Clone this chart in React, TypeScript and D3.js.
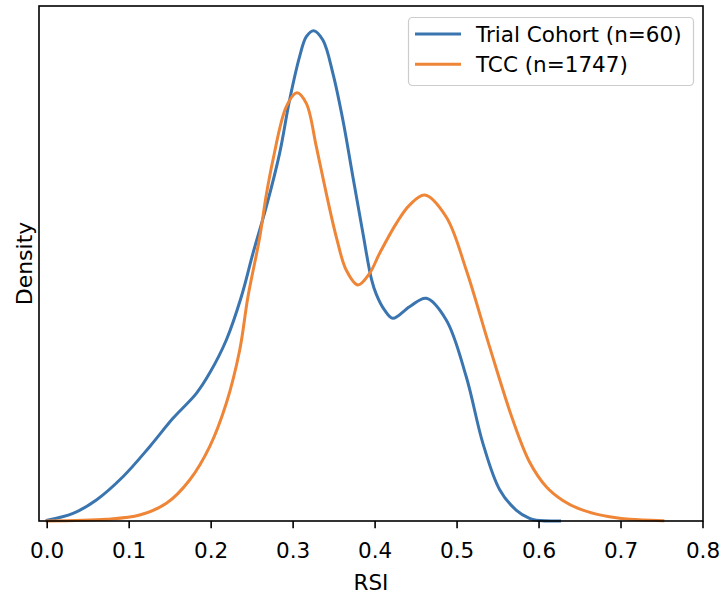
import React from "react";
import * as d3 from "d3";

// RSI values (x) and KDE density (y)
const trialRSI = [0.0, 0.0315, 0.06, 0.0924, 0.125, 0.1534, 0.182, 0.198, 0.2185, 0.2368, 0.251, 0.2673, 0.2835, 0.2957, 0.3079, 0.3161, 0.325, 0.3363, 0.3485, 0.3607, 0.3729, 0.3851, 0.3954, 0.4015, 0.4116, 0.4217, 0.442, 0.4624, 0.4868, 0.5112, 0.5315, 0.5518, 0.572, 0.5884, 0.5966, 0.625];
const trialDensity = [0.01, 0.11, 0.306, 0.644, 1.082, 1.495, 1.859, 2.15, 2.636, 3.266, 3.898, 4.577, 5.354, 6.131, 6.762, 7.053, 7.141, 7.004, 6.519, 5.84, 5.014, 4.194, 3.53, 3.3, 3.07, 2.952, 3.12, 3.243, 2.927, 2.101, 1.131, 0.46, 0.16, 0.039, 0.012, 0.0];

const tccRSI = [0.0, 0.0722, 0.1128, 0.1454, 0.1738, 0.1982, 0.2185, 0.2348, 0.2449, 0.2591, 0.2673, 0.2754, 0.2917, 0.3046, 0.3161, 0.3283, 0.3405, 0.3527, 0.3649, 0.379, 0.3933, 0.4055, 0.4259, 0.442, 0.4604, 0.4868, 0.5112, 0.5396, 0.568, 0.5884, 0.6088, 0.629, 0.6494, 0.6698, 0.69, 0.7104, 0.751];
const tccDensity = [0.0, 0.024, 0.087, 0.257, 0.597, 1.083, 1.714, 2.486, 3.266, 4.12, 4.75, 5.257, 6.034, 6.237, 6.082, 5.451, 4.767, 4.135, 3.651, 3.437, 3.607, 3.898, 4.335, 4.6, 4.747, 4.427, 3.655, 2.539, 1.471, 0.86, 0.5, 0.3, 0.175, 0.1, 0.054, 0.025, 0.004];

const xTicks = [0.0, 0.1, 0.2, 0.3, 0.4, 0.5, 0.6, 0.7, 0.8];
const seriesNames = ["Trial Cohort (n=60)", "TCC (n=1747)"];
const seriesColors = ["#3a75b0", "#ef8536"];

const W = 723;
const H = 598;
const M = { left: 39, right: 703, top: 6, bottom: 521 };
const FONT = "'DejaVu Sans', sans-serif";
const FS = 21.5;

export default function App() {
  const x = d3.scaleLinear().domain([-0.01, 0.8]).range([M.left, M.right]);
  const y = d3.scaleLinear().domain([0, 7.5]).range([M.bottom, M.top]);
  const line = d3
    .line<[number, number]>()
    .x((d) => x(d[0]))
    .y((d) => Math.min(y(d[1]), M.bottom))
    .curve(d3.curveCatmullRom.alpha(0.5));

  const series = [
    trialRSI.map((v, i) => [v, trialDensity[i]] as [number, number]),
    tccRSI.map((v, i) => [v, tccDensity[i]] as [number, number]),
  ];

  const lx = 408.5;
  const ly = 17.5;
  const lw = 285;
  const lh = 68;

  return (
    <svg
      width={W}
      height={H}
      style={{ position: "absolute", left: 0, top: 0, background: "#fff" }}
      fontFamily={FONT}
    >
      <rect x={0} y={0} width={W} height={H} fill="#fff" />
      {series.map((s, i) => (
        <path
          key={i}
          d={line(s) || ""}
          fill="none"
          stroke={seriesColors[i]}
          strokeWidth={3}
          strokeLinejoin="round"
          strokeLinecap="square"
        />
      ))}
      <rect
        x={M.left}
        y={M.top}
        width={M.right - M.left}
        height={M.bottom - M.top}
        fill="none"
        stroke="#000"
        strokeWidth={1.6}
      />
      {xTicks.map((t) => (
        <g key={t}>
          <line x1={x(t)} x2={x(t)} y1={M.bottom} y2={M.bottom + 7.3} stroke="#000" strokeWidth={1.6} />
          <text x={x(t)} y={558} textAnchor="middle" fontSize={FS} fill="#000">
            {d3.format(".1f")(t)}
          </text>
        </g>
      ))}
      <text x={(M.left + M.right) / 2} y={590} textAnchor="middle" fontSize={FS} fill="#000">
        RSI
      </text>
      <text
        transform={`translate(32, ${(M.top + M.bottom) / 2}) rotate(-90)`}
        textAnchor="middle"
        fontSize={22}
        fill="#000"
      >
        Density
      </text>
      <rect x={lx} y={ly} width={lw} height={lh} rx={4} ry={4} fill="#fff" fillOpacity={0.8} stroke="#cccccc" strokeWidth={1.2} />
      {seriesNames.map((name, i) => {
        const yy = 34 + i * 30.3;
        return (
          <g key={name}>
            <line x1={415} x2={461} y1={yy} y2={yy} stroke={seriesColors[i]} strokeWidth={3} />
            <text x={476} y={yy + 7.5} fontSize={FS} fill="#000">
              {name}
            </text>
          </g>
        );
      })}
    </svg>
  );
}
